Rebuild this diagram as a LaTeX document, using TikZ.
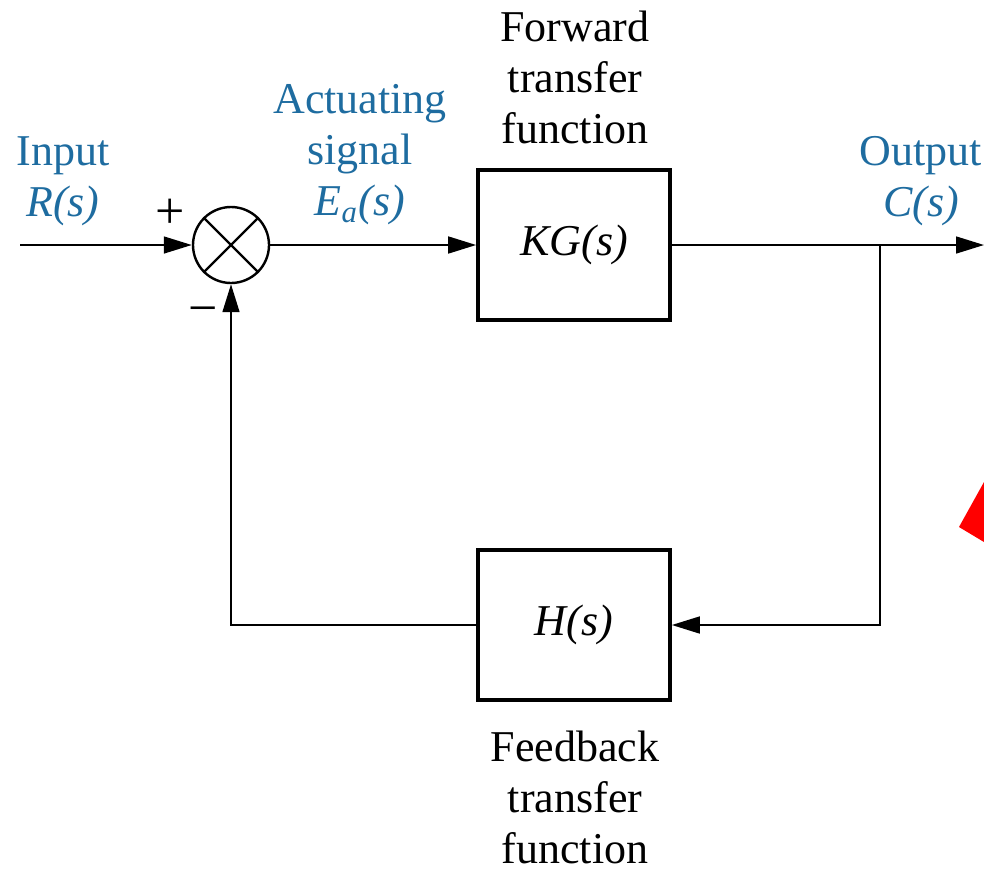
\documentclass[tikz,border=0pt]{standalone}
\usepackage{fontspec}
\setmainfont{Liberation Serif}
\usetikzlibrary{arrows.meta, positioning}
\definecolor{labelblue}{RGB}{30,108,160}
\tikzset{
  block/.style = {rectangle, draw=black, line width=0.9pt, minimum width=48pt, minimum height=37.5pt, font=\fontsize{11}{13}\selectfont\itshape},
  sumjunc/.style = {circle, draw=black, line width=0.6pt, minimum size=19pt, inner sep=0pt},
  signal/.style = {align=center, text=labelblue, inner sep=0pt, font=\fontsize{11}{12.75}\selectfont},
  caption/.style = {align=center, text=black, inner sep=0pt, font=\fontsize{11}{12.75}\selectfont},
  sign/.style = {inner sep=0pt, font=\fontsize{13}{14}\selectfont},
  line/.style = {-{Triangle[length=7pt, width=4.2pt]}, line width=0.55pt},
  wire/.style = {line width=0.55pt}
}

\begin{document}
\begin{tikzpicture}[x=0.25pt, y=-0.25pt]
\useasboundingbox (0,0) rectangle (984,868);

% Blocks
\node[sumjunc] (sum) at (231,245) {};
\draw[wire] (sum.north west) -- (sum.south east);
\draw[wire] (sum.north east) -- (sum.south west);

\node[block] (fwd) at (574,245) {KG(s)};
\node[block] (fb) at (574,625) {H(s)};

% Free ends
\coordinate (in) at (20,245);
\coordinate (out) at (984,245);
\coordinate (branch) at (880,245);

% Labels
\node[signal] (inlab) at (63,181) {Input\\\textit{R(s)}};
\node[signal] (ealab) at (360,155) {Actuating\\signal\\\textit{E}\textsubscript{\textit{a}}\textit{(s)}};
\node[signal] (outlab) at (921,181) {Output\\\textit{C(s)}};
\node[caption] (fwdlab) at (575,77) {Forward\\transfer\\function};
\node[caption] (fblab) at (575,797) {Feedback\\transfer\\function};
\node[sign] (plus) at (170,214) {+};
\node[sign] (minus) at (203,316) {\textminus};

% Arrows
\draw[line] (in) -- (sum.west);
\draw[line] (sum.east) -- (fwd.west);
\draw[line] (fwd.east) -- (out);
\draw[line] (branch) |- (fb.east);
\draw[line] (fb.west) -| (sum.south);

% Red marker at the right edge
\fill[red] (959,527) -- (984,482) -- (984,542) -- cycle;

\end{tikzpicture}
\end{document}
